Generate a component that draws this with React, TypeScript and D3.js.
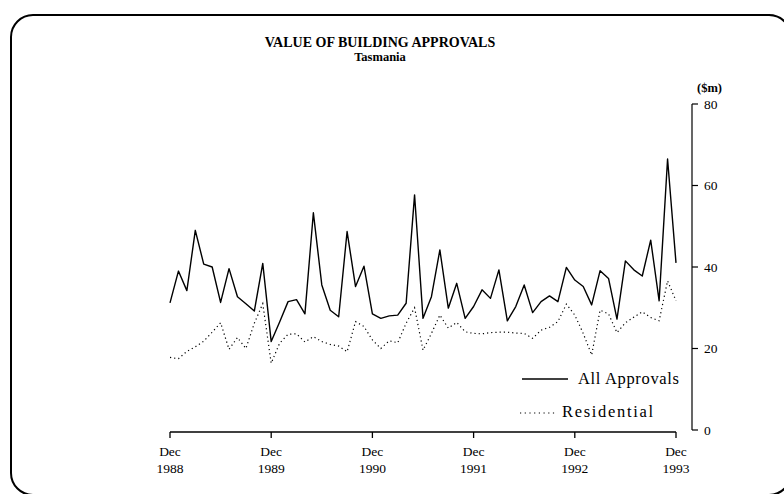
import { useEffect, useRef } from "react";
import * as d3 from "d3";

// monthly, Dec 1988 .. Dec 1993 ($m)
const allApprovals = [
  31.2, 39, 34.2, 49, 40.7, 40, 31.3, 39.6, 32.7, 31, 29.2, 40.9,
  21.7, 26.5, 31.5, 32, 28.5, 53.3, 35.6, 29.4, 27.8, 48.7, 35.2, 40.2,
  28.5, 27.4, 28, 28.2, 31.1, 57.7, 27.4, 32.7, 44.2, 29.9, 36, 27.4,
  30.3, 34.4, 32.3, 39.3, 26.8, 30.3, 35.6, 28.8, 31.5, 32.9, 31.5, 39.9,
  36.8, 35.2, 30.7, 39.1, 37.2, 27.2, 41.5, 39.3, 37.8, 46.6, 31.7, 66.5,
  41,
];

const residential = [
  17.8, 17.5, 19.3, 20.4, 21.8, 24, 26.3, 19.8, 22.7, 20, 26.2, 31,
  16.4, 21.3, 23.5, 23.6, 21.6, 22.9, 21.7, 21, 20.6, 19.2, 26.6, 25.4,
  22.1, 20, 21.9, 21.4, 26.2, 30, 19.6, 23.7, 28.2, 25, 26.4, 24.1,
  23.7, 23.6, 23.9, 24, 24, 23.8, 23.7, 22.5, 24.5, 25.2, 26.6, 30.9,
  28.2, 23.7, 18.4, 29.4, 28.5, 23.9, 26.3, 27.7, 29, 27.6, 26.8, 36.6,
  31.7,
];

const xTickMonths = [0, 12, 24, 36, 48, 60];
const xTickYears = ["1988", "1989", "1990", "1991", "1992", "1993"];
const yTicks = [0, 20, 40, 60, 80];

const title = "VALUE OF BUILDING APPROVALS";
const subtitle = "Tasmania";
const unitLabel = "($m)";
const legendLabels = ["All Approvals", "Residential"];

const W = 784;
const H = 494;
const font = "'Liberation Serif', 'DejaVu Serif', serif";

const App = () => {
  const ref = useRef<SVGSVGElement | null>(null);

  useEffect(() => {
    const svg = d3.select(ref.current);
    svg.selectAll("*").remove();

    // scanned-page frame
    svg
      .append("rect")
      .attr("x", 11)
      .attr("y", 15)
      .attr("width", 780)
      .attr("height", 480)
      .attr("rx", 22)
      .attr("fill", "none")
      .attr("stroke", "#000")
      .attr("stroke-width", 2);

    const x = d3.scaleLinear().domain([0, 60]).range([170, 676]);
    const y = d3.scaleLinear().domain([0, 80]).range([430, 104]);

    svg
      .append("text")
      .attr("x", 380)
      .attr("y", 47)
      .attr("text-anchor", "middle")
      .attr("font-family", font)
      .attr("font-weight", "bold")
      .attr("font-size", 14)
      .text(title);

    svg
      .append("text")
      .attr("x", 380)
      .attr("y", 61)
      .attr("text-anchor", "middle")
      .attr("font-family", font)
      .attr("font-weight", "bold")
      .attr("font-size", 12.5)
      .text(subtitle);

    // bottom axis
    const xAxis = svg.append("g").attr("transform", "translate(0,432)");
    xAxis
      .append("line")
      .attr("x1", x(0))
      .attr("x2", x(60))
      .attr("stroke", "#000")
      .attr("stroke-width", 1.3);
    xTickMonths.forEach((m, i) => {
      xAxis
        .append("line")
        .attr("x1", x(m))
        .attr("x2", x(m))
        .attr("y1", 0)
        .attr("y2", 6)
        .attr("stroke", "#000")
        .attr("stroke-width", 1.3);
      const t = xAxis
        .append("text")
        .attr("text-anchor", "middle")
        .attr("font-family", font)
        .attr("font-size", 13.5);
      t.append("tspan").attr("x", x(m)).attr("y", 24).text("Dec");
      t.append("tspan").attr("x", x(m)).attr("y", 41).text(xTickYears[i]);
    });

    // right axis
    const axisX = 692;
    svg
      .append("line")
      .attr("x1", axisX)
      .attr("x2", axisX)
      .attr("y1", y(80))
      .attr("y2", y(0))
      .attr("stroke", "#000")
      .attr("stroke-width", 1.2);
    yTicks.forEach((v) => {
      svg
        .append("line")
        .attr("x1", axisX)
        .attr("x2", axisX + 6)
        .attr("y1", y(v))
        .attr("y2", y(v))
        .attr("stroke", "#000")
        .attr("stroke-width", 1.2);
      svg
        .append("text")
        .attr("x", axisX + 12)
        .attr("y", y(v) + 4.5)
        .attr("font-family", font)
        .attr("font-size", 13.5)
        .text(v);
    });
    svg
      .append("text")
      .attr("x", 697)
      .attr("y", 92)
      .attr("font-family", font)
      .attr("font-weight", "bold")
      .attr("font-size", 12.5)
      .text(unitLabel);

    const line = d3
      .line<number>()
      .x((_, i) => x(i))
      .y((d) => y(d));

    svg
      .append("path")
      .datum(residential)
      .attr("fill", "none")
      .attr("stroke", "#000")
      .attr("stroke-width", 1.2)
      .attr("stroke-dasharray", "1.2,3")
      .attr("d", line);

    svg
      .append("path")
      .datum(allApprovals)
      .attr("fill", "none")
      .attr("stroke", "#000")
      .attr("stroke-width", 1.4)
      .attr("stroke-linejoin", "round")
      .attr("d", line);

    // legend
    const legend = svg.append("g");
    legend
      .append("line")
      .attr("x1", 522)
      .attr("x2", 568)
      .attr("y1", 379)
      .attr("y2", 379)
      .attr("stroke", "#000")
      .attr("stroke-width", 1.3);
    legend
      .append("text")
      .attr("x", 578)
      .attr("y", 384)
      .attr("font-family", font)
      .attr("font-size", 16.5)
      .attr("textLength", 101)
      .attr("lengthAdjust", "spacing")
      .text(legendLabels[0]);
    legend
      .append("line")
      .attr("x1", 520)
      .attr("x2", 556)
      .attr("y1", 413)
      .attr("y2", 413)
      .attr("stroke", "#000")
      .attr("stroke-width", 1.2)
      .attr("stroke-dasharray", "1.2,3.5");
    legend
      .append("text")
      .attr("x", 562)
      .attr("y", 417)
      .attr("font-family", font)
      .attr("font-size", 16.5)
      .attr("textLength", 91)
      .attr("lengthAdjust", "spacing")
      .text(legendLabels[1]);
  }, []);

  return (
    <svg
      ref={ref}
      width={W}
      height={H}
      style={{ position: "absolute", left: 0, top: 0, background: "#fff" }}
    ></svg>
  );
};

export default App;
